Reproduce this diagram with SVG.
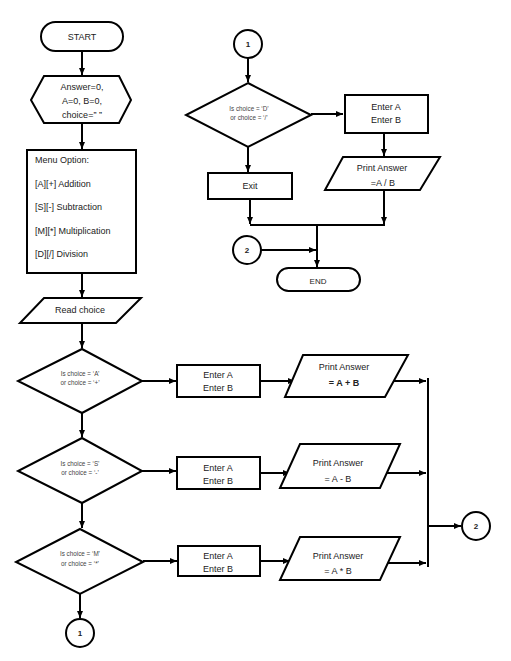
<svg xmlns="http://www.w3.org/2000/svg" width="511" height="661" viewBox="0 0 511 661">
<defs>
<marker id="ah" markerWidth="8" markerHeight="8" refX="7" refY="4" orient="auto" markerUnits="userSpaceOnUse">
<path d="M0,1 L7,4 L0,7 Z" fill="#000"/>
</marker>
</defs>
<style>
.s{fill:#fff;stroke:#000;stroke-width:2}
.c{fill:none;stroke:#000;stroke-width:2}
.t{font-family:"Liberation Sans",Arial,sans-serif;font-size:9px;fill:#222;text-anchor:middle}
.m{font-family:"Liberation Sans",Arial,sans-serif;font-size:9px;fill:#222}
.d{font-family:"Liberation Sans",Arial,sans-serif;font-size:6.3px;fill:#444;text-anchor:middle}
</style>
<rect width="511" height="661" fill="#fff"/>
<g id="connectors">
<path class="c" d="M82,51 V75" marker-end="url(#ah)"/>
<path class="c" d="M82,123 V149" marker-end="url(#ah)"/>
<path class="c" d="M82,273 V297" marker-end="url(#ah)"/>
<path class="c" d="M82,322 V348" marker-end="url(#ah)"/>
<path class="c" d="M142,381 H176" marker-end="url(#ah)"/>
<path class="c" d="M82,413 V437" marker-end="url(#ah)"/>
<path class="c" d="M142,471 H176" marker-end="url(#ah)"/>
<path class="c" d="M82,503 V528" marker-end="url(#ah)"/>
<path class="c" d="M143,561 H177" marker-end="url(#ah)"/>
<path class="c" d="M80,593 V618" marker-end="url(#ah)"/>
<path class="c" d="M260,381 H295" marker-end="url(#ah)"/>
<path class="c" d="M260,473 H290" marker-end="url(#ah)"/>
<path class="c" d="M260,561 H290" marker-end="url(#ah)"/>
<path class="c" d="M390,381 H426" marker-end="url(#ah)"/>
<path class="c" d="M386,473 H426" marker-end="url(#ah)"/>
<path class="c" d="M386,563 H426" marker-end="url(#ah)"/>
<path class="c" d="M428,378 V567"/>
<path class="c" d="M428,526 H461" marker-end="url(#ah)"/>
<path class="c" d="M248,58 V82" marker-end="url(#ah)"/>
<path class="c" d="M311,114 H343" marker-end="url(#ah)"/>
<path class="c" d="M384,133 V156" marker-end="url(#ah)"/>
<path class="c" d="M248,147 V172" marker-end="url(#ah)"/>
<path class="c" d="M250,199 V224" marker-end="url(#ah)"/>
<path class="c" d="M384,190 V224" marker-end="url(#ah)"/>
<path class="c" d="M250,225 H385"/>
<path class="c" d="M317,225 V267" marker-end="url(#ah)"/>
<path class="c" d="M261,250 H316" marker-end="url(#ah)"/>
</g>
<g id="start">
<rect class="s" x="41" y="22" width="82" height="29" rx="14.5"/>
<text class="t" x="82" y="40">START</text>
</g>
<g id="init">
<polygon class="s" points="44,76 119,76 131,100 119,123 44,123 31,100"/>
<text class="t" x="82" y="90">Answer=0,</text>
<text class="t" x="82" y="104">A=0, B=0,</text>
<text class="t" x="82" y="118">choice=” ”</text>
</g>
<g id="menu">
<rect class="s" x="27" y="150" width="109" height="123"/>
<text class="m" x="35" y="163">Menu Option:</text>
<text class="m" x="35" y="187">[A][+] Addition</text>
<text class="m" x="35" y="210">[S][-] Subtraction</text>
<text class="m" x="35" y="234">[M][*] Multiplication</text>
<text class="m" x="35" y="257">[D][/] Division</text>
</g>
<g id="read">
<polygon class="s" points="44,298 141,298 116,323 20,323"/>
<text class="t" x="80" y="313">Read choice</text>
</g>
<g id="decA">
<polygon class="s" points="82,349 142,381 82,413 18,381"/>
<text class="d" x="80" y="376">Is choice = ‘A’</text>
<text class="d" x="80" y="385">or choice = ‘+’</text>
</g>
<g id="decS">
<polygon class="s" points="82,438 142,471 82,503 18,471"/>
<text class="d" x="80" y="466">Is choice = ‘S’</text>
<text class="d" x="80" y="475">or choice = ‘-’</text>
</g>
<g id="decM">
<polygon class="s" points="80,529 143,562 80,594 16,562"/>
<text class="d" x="80" y="556">Is choice = ‘M’</text>
<text class="d" x="80" y="566">or choice = ‘*’</text>
</g>
<g id="c1bottom">
<circle class="s" cx="80" cy="633" r="14"/>
<text class="t" x="80" y="636" style="font-weight:bold;font-size:8px">1</text>
</g>
<g id="enterA">
<rect class="s" x="177" y="365" width="83" height="32"/>
<text class="t" x="218" y="378">Enter A</text>
<text class="t" x="218" y="391">Enter B</text>
</g>
<g id="enterS">
<rect class="s" x="177" y="457" width="83" height="32"/>
<text class="t" x="218" y="471">Enter A</text>
<text class="t" x="218" y="484">Enter B</text>
</g>
<g id="enterM">
<rect class="s" x="178" y="546" width="82" height="30"/>
<text class="t" x="218" y="559">Enter A</text>
<text class="t" x="218" y="572">Enter B</text>
</g>
<g id="printA">
<polygon class="s" points="303,355 408,355 385,397 285,397"/>
<text class="t" x="344" y="370">Print Answer</text>
<text class="t" x="344" y="386" style="font-weight:bold">= A + B</text>
</g>
<g id="printS">
<polygon class="s" points="300,444 400,444 380,488 280,488"/>
<text class="t" x="338" y="466">Print Answer</text>
<text class="t" x="338" y="482">= A - B</text>
</g>
<g id="printM">
<polygon class="s" points="300,537 400,537 380,580 280,580"/>
<text class="t" x="338" y="559">Print Answer</text>
<text class="t" x="338" y="574">= A * B</text>
</g>
<g id="c2right">
<circle class="s" cx="476" cy="526" r="14"/>
<text class="t" x="476" y="529" style="font-weight:bold;font-size:8px">2</text>
</g>
<g id="c1top">
<circle class="s" cx="248" cy="44" r="14"/>
<text class="t" x="248" y="47" style="font-weight:bold;font-size:8px">1</text>
</g>
<g id="decD">
<polygon class="s" points="248,83 311,115 248,147 186,115"/>
<text class="d" x="249" y="111">Is choice = ‘D’</text>
<text class="d" x="249" y="120">or choice = ‘/’</text>
</g>
<g id="enterD">
<rect class="s" x="345" y="95" width="83" height="38"/>
<text class="t" x="386" y="110">Enter A</text>
<text class="t" x="386" y="123">Enter B</text>
</g>
<g id="printD">
<polygon class="s" points="343,157 440,157 420,190 325,190"/>
<text class="t" x="382" y="171">Print Answer</text>
<text class="t" x="383" y="186">=A / B</text>
</g>
<g id="exit">
<rect class="s" x="208" y="173" width="84" height="26"/>
<text class="t" x="250" y="189">Exit</text>
</g>
<g id="c2top">
<circle class="s" cx="247" cy="250" r="14"/>
<text class="t" x="247" y="253" style="font-weight:bold;font-size:8px">2</text>
</g>
<g id="end">
<rect class="s" x="277" y="268" width="83" height="23" rx="11.5"/>
<text class="t" x="318" y="284" style="font-size:8px">END</text>
</g>
</svg>
